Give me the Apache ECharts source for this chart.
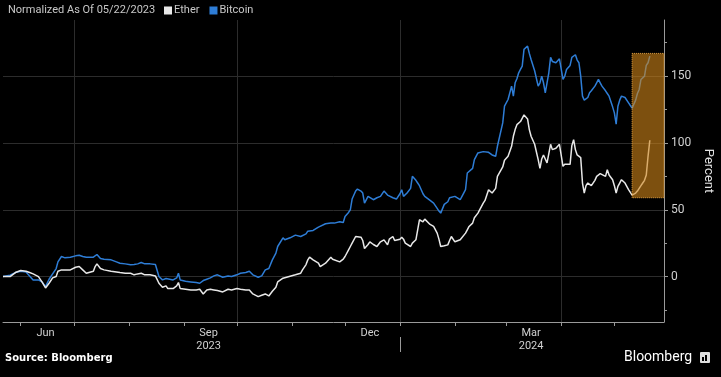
<!DOCTYPE html>
<html>
<head>
<meta charset="utf-8">
<title>Ether vs Bitcoin</title>
<script src="https://cdn.jsdelivr.net/npm/echarts@6/dist/echarts.min.js"></script>
<style>
  html, body { margin: 0; padding: 0; background: #000; }
  #chart { width: 721px; height: 377px; }
</style>
</head>
<body>
<div id="chart"></div>
<script>
// axis range (daily categories)
const startDay = '2023-05-22'
const endDay = '2024-05-29'

const dates = [
  '2023-05-22', '2023-05-26', '2023-05-29', '2023-06-01', '2023-06-04', '2023-06-06', '2023-06-08', '2023-06-09', '2023-06-11', '2023-06-13',
  '2023-06-15', '2023-06-17', '2023-06-19', '2023-06-21', '2023-06-22', '2023-06-24', '2023-06-26', '2023-06-29', '2023-07-02', '2023-07-04',
  '2023-07-06', '2023-07-08', '2023-07-09', '2023-07-12', '2023-07-13', '2023-07-14', '2023-07-16', '2023-07-18', '2023-07-22', '2023-07-25',
  '2023-07-27', '2023-07-30', '2023-08-02', '2023-08-04', '2023-08-06', '2023-08-08', '2023-08-09', '2023-08-10', '2023-08-13', '2023-08-16',
  '2023-08-17', '2023-08-18', '2023-08-20', '2023-08-22', '2023-08-23', '2023-08-26', '2023-08-28', '2023-08-29', '2023-08-30', '2023-09-02',
  '2023-09-05', '2023-09-08', '2023-09-10', '2023-09-12', '2023-09-14', '2023-09-16', '2023-09-18', '2023-09-20', '2023-09-23', '2023-09-26',
  '2023-09-28', '2023-10-01', '2023-10-03', '2023-10-06', '2023-10-08', '2023-10-10', '2023-10-13', '2023-10-15', '2023-10-17', '2023-10-19',
  '2023-10-21', '2023-10-23', '2023-10-24', '2023-10-27', '2023-10-28', '2023-10-31', '2023-11-03', '2023-11-06', '2023-11-07', '2023-11-09',
  '2023-11-10', '2023-11-11', '2023-11-13', '2023-11-14', '2023-11-16', '2023-11-17', '2023-11-20', '2023-11-23', '2023-11-24', '2023-11-25',
  '2023-11-28', '2023-11-30', '2023-12-01', '2023-12-03', '2023-12-04', '2023-12-05', '2023-12-07', '2023-12-08', '2023-12-10', '2023-12-11',
  '2023-12-12', '2023-12-14', '2023-12-15', '2023-12-17', '2023-12-19', '2023-12-21', '2023-12-23', '2023-12-25', '2023-12-26', '2023-12-28',
  '2023-12-29', '2023-12-30', '2024-01-01', '2024-01-02', '2024-01-03', '2024-01-04', '2024-01-05', '2024-01-07', '2024-01-08', '2024-01-10',
  '2024-01-11', '2024-01-12', '2024-01-13', '2024-01-14', '2024-01-15', '2024-01-16', '2024-01-18', '2024-01-20', '2024-01-22', '2024-01-23',
  '2024-01-24', '2024-01-25', '2024-01-26', '2024-01-28', '2024-01-29', '2024-01-30', '2024-02-01', '2024-02-04', '2024-02-05', '2024-02-07',
  '2024-02-08', '2024-02-09', '2024-02-11', '2024-02-12', '2024-02-14', '2024-02-17', '2024-02-18', '2024-02-20', '2024-02-21', '2024-02-22',
  '2024-02-24', '2024-02-25', '2024-02-28', '2024-02-29', '2024-03-02', '2024-03-04', '2024-03-05', '2024-03-06', '2024-03-07', '2024-03-08',
  '2024-03-09', '2024-03-10', '2024-03-11', '2024-03-13', '2024-03-14', '2024-03-15', '2024-03-17', '2024-03-19', '2024-03-20', '2024-03-21',
  '2024-03-22', '2024-03-23', '2024-03-24', '2024-03-25', '2024-03-26', '2024-03-27', '2024-03-28', '2024-03-29', '2024-03-31', '2024-04-02',
  '2024-04-03', '2024-04-04', '2024-04-06', '2024-04-07', '2024-04-08', '2024-04-09', '2024-04-10', '2024-04-11', '2024-04-12', '2024-04-13',
  '2024-04-14', '2024-04-15', '2024-04-16', '2024-04-17', '2024-04-18', '2024-04-20', '2024-04-21', '2024-04-22', '2024-04-23', '2024-04-24',
  '2024-04-26', '2024-04-27', '2024-04-28', '2024-04-30', '2024-05-01', '2024-05-02', '2024-05-03', '2024-05-04', '2024-05-05', '2024-05-07',
  '2024-05-09', '2024-05-10', '2024-05-11', '2024-05-13', '2024-05-14', '2024-05-15', '2024-05-16', '2024-05-17', '2024-05-18', '2024-05-19',
  '2024-05-20', '2024-05-21'
]

// percent change since 05/22/2023
const etherPct = [
  0, 0, 3, 4.5, 4, 3, 2, 3, 0, -4,
  -8.5, -5, -1, 0, 4, 5, 5, 5, 7, 7.5,
  5, 2.5, 2.5, 4, 7.5, 9.5, 6, 5, 4, 3.5,
  3, 2.5, 2.5, 1.3, 2, 2.5, 2, 1.3, 1.3, 0.5,
  0.5, -5, -8, -7, -9, -9, -7, -4.5, -9, -9.5,
  -10, -10, -9.5, -13, -10, -9.5, -10, -10.5, -11.5, -9.5,
  -10, -9, -9.5, -10, -10, -13, -15, -14, -13, -14.5,
  -11, -8, -4, -1.2, -0.5, 0.3, 1.3, 2.5, 5, 9,
  12.5, 14.5, 12.5, 13, 10, 7.5, 10, 14.5, 13, 12.5,
  11, 13, 15, 20, 22.5, 25, 30, 30, 29.5, 27,
  21, 24, 26, 24, 22.5, 26, 27.5, 23.7, 28, 30,
  27, 26, 28, 29.5, 28, 25, 24, 22.5, 25, 27.5,
  35, 42.5, 42, 41, 43, 44, 39, 37.5, 32.5, 28,
  22.5, 22, 23, 23.7, 27, 30, 26, 27.5, 27.5, 32.5,
  35, 37.5, 40, 44, 47.5, 55, 57, 65, 64, 62.5,
  66, 75, 82, 87, 90, 97.5, 105, 110, 113.7, 115,
  116, 117, 121, 118, 110, 105, 99, 87.5, 81, 88,
  91, 88, 85, 92, 99, 95, 96, 96, 99, 82.5,
  84, 84, 84, 98, 102.5, 95, 91, 90, 89, 70,
  62.5, 68, 70, 69, 68, 72, 75, 76, 77, 77.5,
  75, 80, 76, 72.5, 68, 62.5, 67.5, 70, 72.5, 70,
  65, 63, 61, 62.5, 64, 65, 68, 70, 72, 76,
  90, 102
]

const bitcoinPct = [
  0, 1, 3, 4, 3.5, 0.5, -2.5, -2, -2.5, -4,
  -7.5, -2, 2, 6, 11, 15, 14, 14.5, 15.5, 16,
  15, 14.5, 14.5, 14.5, 15.5, 16.5, 13.5, 13, 12.5, 11,
  10, 9.5, 8.8, 9, 9.5, 10.5, 11, 9.5, 9.5, 9,
  8.5, 0, -2.5, -1.5, -2, -2.5, -1, 2.5, -2.5, -3.5,
  -4, -4.5, -5, -3, -2, -1, 0.5, 1.3, -0.5, 0.5,
  0, 1.3, 2.5, 3, 4, 1.3, -0.5, 0.5, 5, 6,
  12.5, 17.5, 22.5, 29, 27.5, 29, 31, 30, 31, 32,
  34, 35, 34.5, 33.5, 37, 38, 39.5, 40, 39, 40,
  41, 40.5, 45, 48, 50, 58, 64, 65.5, 64, 62.5,
  55, 60, 59, 57.5, 59, 60, 64, 61, 60, 59,
  58.5, 58, 62, 65, 60, 61, 62.5, 66, 75, 72,
  70, 68, 65, 62, 60, 59, 57, 55, 51, 49,
  47.5, 48, 54, 56, 59, 59.5, 60, 57.5, 60, 65,
  77.5, 77.5, 81, 87.5, 92.5, 93.5, 94, 93, 92.5, 91,
  90, 97.5, 115, 127.5, 132.5, 142.5, 135, 145, 148, 152.5,
  155, 157.5, 170, 172.5, 167, 162.5, 154, 142.5, 145, 150,
  145, 137.5, 145, 152.5, 164, 161, 161, 160, 163, 147.5,
  150, 155, 158, 164, 165, 166, 162, 160, 150, 135,
  132, 131, 134, 137.5, 139, 142.5, 145, 147.5, 145, 142.5,
  139, 137, 135, 127, 122.5, 114, 127.5, 132, 135, 134,
  130, 128, 126, 132, 137, 140, 147.5, 148, 150, 158,
  160, 165
]

// axis labels
const monthLabels = { '06-15': 'Jun', '09-15': 'Sep', '12-15': 'Dec', '03-15': 'Mar' }
const yearLabels = { '2023-09-15': '2023', '2024-03-15': '2024' }
const quarterStarts = ['07-01', '10-01', '01-01', '04-01']
const yearBreak = '2024-01-01'
const yTicks = [0, 50, 100, 150]
const yMinorTicks = [-25, 25, 75, 125, 175]
const yMin = -34
const yMax = 192

// highlighted box
const boxStart = '2024-05-11'
const boxEnd = '2024-05-29'
const boxLow = 59
const boxHigh = 167

const etherColor = '#e8e8e8'
const bitcoinColor = '#2e7dd6'

const days = []
for (let t = Date.parse(startDay); t <= Date.parse(endDay); t += 86400000) {
  days.push(new Date(t).toISOString().slice(0, 10))
}

const chart = echarts.init(document.getElementById('chart'))

const option = {
  backgroundColor: '#000',
  animation: false,
  textStyle: { fontFamily: 'Roboto' },
  title: {
    text: 'Normalized As Of 05/22/2023',
    left: 8,
    top: 5,
    padding: 0,
    textStyle: { color: '#c8c8c8', fontSize: 11, fontWeight: 'normal' },
  },
  legend: {
    data: ['Ether', 'Bitcoin'],
    left: 164,
    top: 5,
    padding: 0,
    icon: 'rect',
    itemWidth: 8,
    itemHeight: 8,
    itemGap: 10,
    textStyle: { color: '#c8c8c8', fontSize: 11, padding: [0, 0, 0, -3] },
  },
  grid: {
    left: 3,
    right: 57,
    top: 20,
    bottom: 55,
    containLabel: false,
    outerBoundsMode: 'none',
  },
  xAxis: [
    {
      type: 'category',
      data: days,
      boundaryGap: false,
      axisLine: { onZero: false, lineStyle: { color: '#9a9a9a' } },
      axisTick: {
        interval: (i, v) => v.slice(8) === '01',
        length: 4,
        lineStyle: { color: '#9a9a9a' },
      },
      axisLabel: {
        interval: (i, v) => v.slice(5) in monthLabels,
        formatter: v => monthLabels[v.slice(5)] || '',
        color: '#d0d0d0',
        fontSize: 11,
        margin: 6,
      },
      splitLine: {
        show: true,
        interval: (i, v) => quarterStarts.includes(v.slice(5)),
        lineStyle: { color: '#2c2c2c' },
      },
    },
    {
      type: 'category',
      data: days,
      boundaryGap: false,
      position: 'bottom',
      offset: 15,
      axisLine: { show: false, onZero: false },
      axisTick: {
        interval: (i, v) => v === yearBreak,
        length: 15,
        lineStyle: { color: '#9a9a9a' },
      },
      axisLabel: {
        interval: (i, v) => v in yearLabels,
        formatter: v => yearLabels[v] || '',
        color: '#d0d0d0',
        fontSize: 11,
        margin: 4,
      },
      splitLine: { show: false },
    },
  ],
  yAxis: [
    {
      type: 'value',
      position: 'right',
      min: yMin,
      max: yMax,
      axisLine: { show: true, onZero: false, lineStyle: { color: '#9a9a9a' } },
      axisTick: { show: true, customValues: yTicks, length: 4, lineStyle: { color: '#9a9a9a' } },
      axisLabel: { customValues: yTicks, color: '#d0d0d0', fontSize: 12, margin: 7 },
      splitLine: { show: true, lineStyle: { color: '#2c2c2c' } },
      name: 'Percent',
      nameLocation: 'middle',
      nameRotate: -90,
      nameGap: 30,
      nameTextStyle: { color: '#e0e0e0', fontSize: 13 },
    },
    {
      type: 'value',
      position: 'right',
      min: yMin,
      max: yMax,
      axisLine: { show: false, onZero: false },
      axisTick: { show: true, customValues: yMinorTicks, length: 3, lineStyle: { color: '#9a9a9a' } },
      axisLabel: { show: false },
      splitLine: { show: false },
    },
  ],
  series: [
    {
      name: 'Bitcoin',
      type: 'line',
      data: dates.map((d, i) => [d, bitcoinPct[i]]),
      showSymbol: false,
      lineStyle: { color: bitcoinColor, width: 1.5 },
      itemStyle: { color: bitcoinColor },
      z: 2,
    },
    {
      name: 'Ether',
      type: 'line',
      data: dates.map((d, i) => [d, etherPct[i]]),
      showSymbol: false,
      lineStyle: { color: etherColor, width: 1.5 },
      itemStyle: { color: etherColor },
      z: 3,
    },
    {
      name: 'highlight',
      type: 'line',
      data: [],
      z: 10,
      markArea: {
        silent: true,
        z: 10,
        itemStyle: {
          color: 'rgba(208, 133, 25, 0.6)',
          borderColor: '#e0a040',
          borderWidth: 1,
          borderType: 'dotted',
        },
        data: [[{ xAxis: boxStart, yAxis: boxHigh }, { xAxis: boxEnd, yAxis: boxLow }]],
      },
    },
  ],
  graphic: [
    {
      type: 'text',
      left: 5,
      top: 353,
      style: { text: 'Source: Bloomberg', fill: '#fff', font: 'bold 10px "DejaVu Sans"' },
    },
    {
      type: 'text',
      left: 624,
      top: 350,
      style: { text: 'Bloomberg', fill: '#fff', font: '14px Roboto' },
    },
    {
      type: 'group',
      left: 700,
      top: 352,
      children: [
        { type: 'rect', shape: { x: 0, y: 0, width: 10, height: 11, r: 1 }, style: { fill: '#e0e0e0' } },
        { type: 'rect', shape: { x: 2, y: 5, width: 2, height: 4 }, style: { fill: '#000' } },
        { type: 'rect', shape: { x: 5, y: 3, width: 2, height: 6 }, style: { fill: '#000' } },
      ],
    },
  ],
}

chart.setOption(option)
</script>
</body>
</html>
